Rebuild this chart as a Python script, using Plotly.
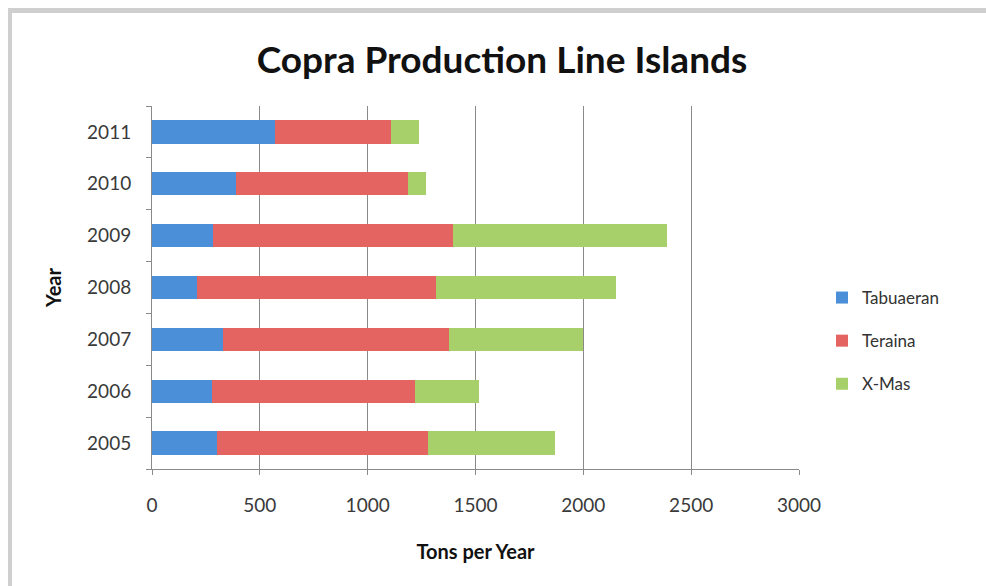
import plotly.graph_objects as go

years = ["2005", "2006", "2007", "2008", "2009", "2010", "2011"]
tabuaeran = [300, 280, 330, 210, 285, 390, 570]
teraina = [980, 940, 1045, 1105, 1110, 795, 540]
xmas = [590, 295, 625, 835, 995, 85, 130]
series_names = ["Tabuaeran", "Teraina", "X-Mas"]
colors = ["#4a8fd8", "#e46462", "#a7d06a"]
x_ticks = [0, 500, 1000, 1500, 2000, 2500, 3000]

W, H = 986, 586
L, R, T, B = 152, 799, 106, 469

fig = go.Figure()
for name, vals, col in zip(series_names, [tabuaeran, teraina, xmas], colors):
    fig.add_trace(go.Bar(
        y=years, x=vals, name=name, orientation="h",
        marker=dict(color=col, line=dict(width=0)),
        legendgroup=name,
    ))

def px(x):
    return (x - L) / (R - L)

def py(y):
    return (B - y) / (B - T)

frame = "#cfcfcf"
shapes = [
    dict(type="rect", xref="paper", yref="paper", x0=px(8), x1=px(986), y0=py(8), y1=py(13),
         fillcolor=frame, line=dict(width=0), layer="below"),
    dict(type="rect", xref="paper", yref="paper", x0=px(8), x1=px(12), y0=py(8), y1=py(586),
         fillcolor=frame, line=dict(width=0), layer="below"),
]

font = "Lato, 'Open Sans', sans-serif"
fig.update_layout(
    width=W, height=H,
    margin=dict(l=L, r=W - R, t=T, b=H - B),
    paper_bgcolor="white", plot_bgcolor="white",
    barmode="stack", bargap=0.55,
    title=dict(text="<b>Copra Production Line Islands</b>", x=502 / W, xanchor="center",
               y=1 - 60 / H, yanchor="middle", font=dict(family=font, size=37, color="#111")),
    xaxis=dict(range=[0, 3000], tickvals=x_ticks, showgrid=True, gridcolor="#8a8a8a", gridwidth=1,
               showline=True, linecolor="#8a8a8a", linewidth=1, ticks="outside", ticklen=5,
               tickcolor="#8a8a8a", zeroline=False, ticklabelstandoff=14,
               tickfont=dict(family=font, size=19, color="#3a3a3a"),
               title=dict(text="<b>Tons per Year</b>", standoff=30,
                          font=dict(family=font, size=20, color="#111"))),
    yaxis=dict(type="category", categoryorder="array", categoryarray=years,
               showline=True, linecolor="#8a8a8a", linewidth=1, ticks="outside", ticklen=5,
               tickcolor="#8a8a8a", tickson="boundaries", showgrid=False, ticklabelstandoff=16,
               tickfont=dict(family=font, size=19, color="#3a3a3a"),
               title=dict(text="<b>Year</b>", standoff=20,
                          font=dict(family=font, size=20, color="#111"))),
    legend=dict(x=px(822), xanchor="left", y=py(280), yanchor="top", traceorder="grouped",
                tracegroupgap=18, font=dict(family=font, size=17, color="#333"),
                bgcolor="rgba(0,0,0,0)", itemwidth=30),
    shapes=shapes,
    showlegend=True,
)

fig.write_html("out.html")
